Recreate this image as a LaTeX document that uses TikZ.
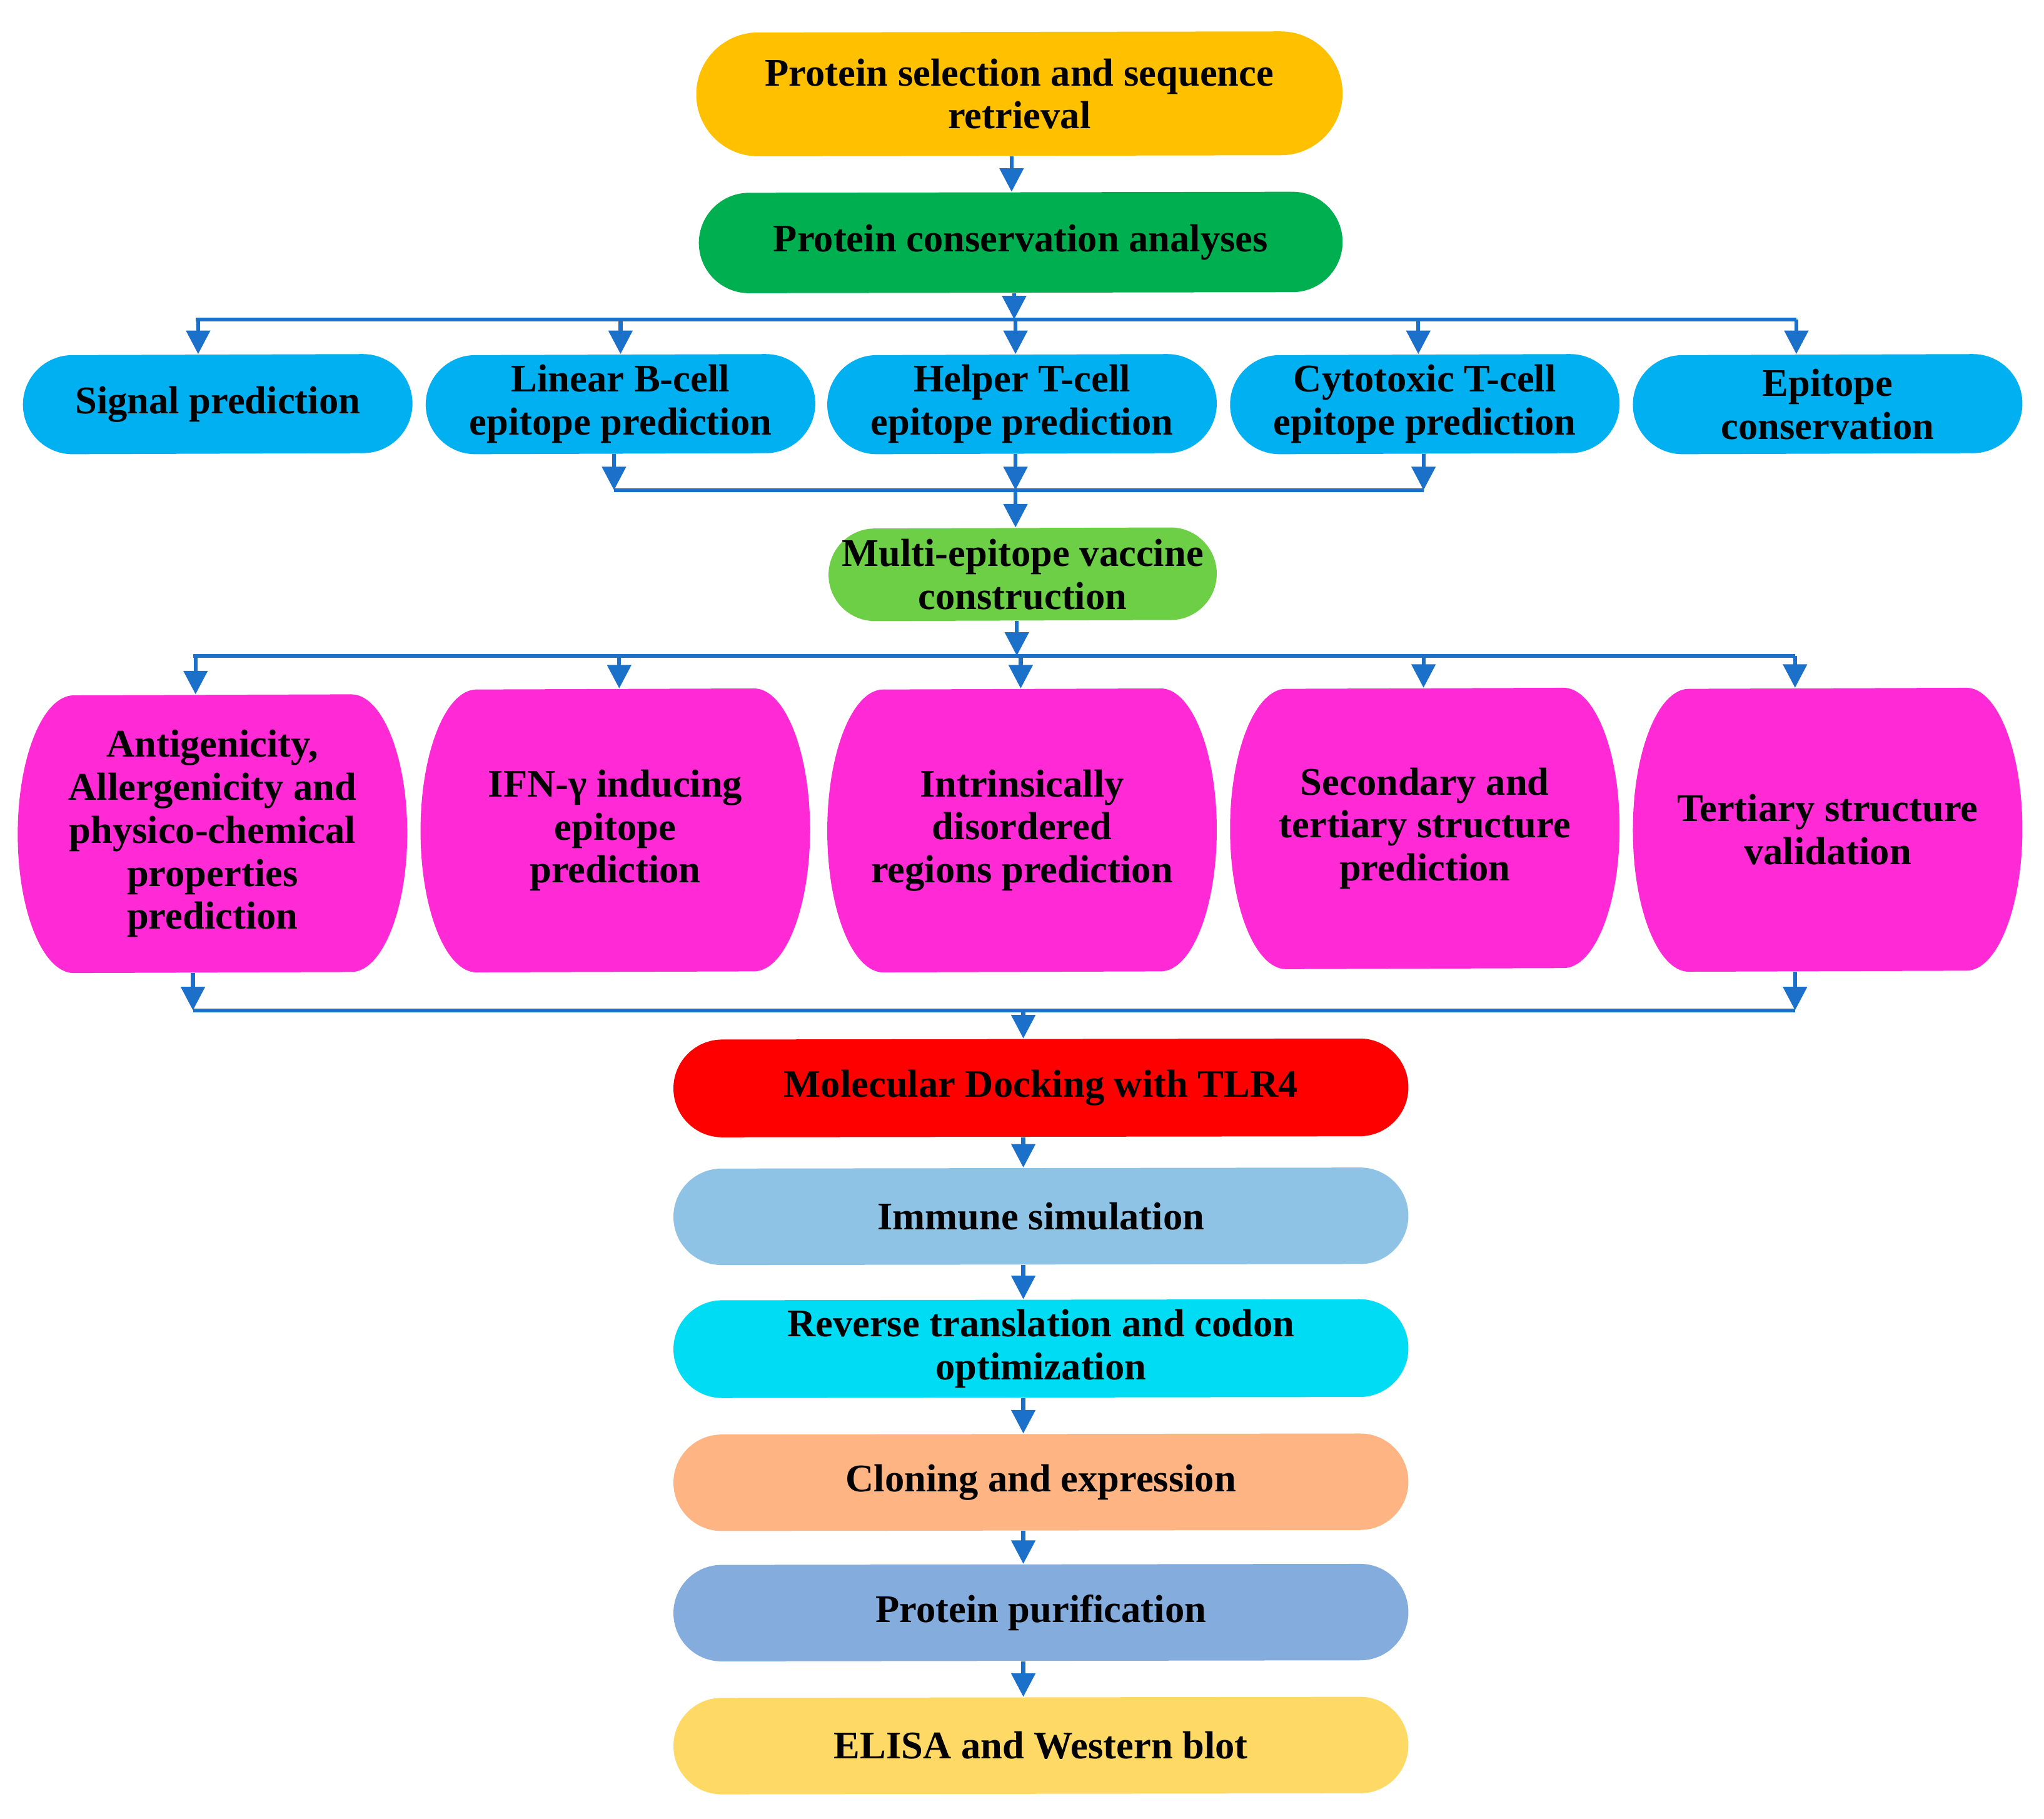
\documentclass[tikz,border=0pt]{standalone}
\usepackage{fontspec}
\setmainfont{Liberation Serif}
\usetikzlibrary{arrows.meta,backgrounds}
\definecolor{StepSel}   {HTML}{FFC000}
\definecolor{StepCons}  {HTML}{00B050}
\definecolor{StepScreen}{HTML}{00B0F0}
\definecolor{StepBuild} {HTML}{6DCF46}
\definecolor{StepCheck} {HTML}{FF2AD6}
\definecolor{StepDock}  {HTML}{FF0000}
\definecolor{StepImm}   {HTML}{8EC3E6}
\definecolor{StepRev}   {HTML}{00DCF4}
\definecolor{StepClon}  {HTML}{FFB583}
\definecolor{StepPuri}  {HTML}{84ACDD}
\definecolor{StepElisa} {HTML}{FFD966}
\definecolor{FlowBlue}  {HTML}{1B70C9}
\tikzset{
  stage/.style={rectangle,inner sep=0pt,align=center,text=black,
                font=\bfseries\fontsize{15pt}{16.5pt}\selectfont},
  wide/.style={stage,minimum width=281.5pt,minimum height=37.5pt},
  pill/.style={stage,minimum width=149pt,minimum height=38pt},
  barrel/.style={stage,minimum width=149pt,minimum height=108.5pt},
  flow/.style={draw=FlowBlue,line width=1.5pt,-{Triangle[length=9pt,width=9pt]}},
  busline/.style={draw=FlowBlue,line width=1.5pt}
}
\begin{document}
\begin{tikzpicture}[x=0.5pt,y=-0.5pt]
    \useasboundingbox (0,0) rectangle (1568,1395);
    % Sequence and conservation
    \node[wide,minimum width=247.5pt,minimum height=47.5pt] (sel) at (782,72)
      {Protein selection and sequence\\retrieval};
    \node[wide,minimum width=246.5pt,minimum height=38.5pt] (cons) at (783,186)
      {Protein conservation analyses};
    \draw[flow] (776,0 |- sel.south) -- (776,0 |- cons.north);
    % Epitope screening
    \node[pill] (sig)  at (167,310)  {Signal prediction};
    \node[pill] (linb) at (476,310)  {Linear B-cell\\epitope prediction};
    \node[pill] (helt) at (784,310)  {Helper T-cell\\epitope prediction};
    \node[pill] (cyto) at (1093,310) {Cytotoxic T-cell\\epitope prediction};
    \node[pill] (epic) at (1402,310) {Epitope\\conservation};
    \coordinate (sAl) at (150,245);
    \coordinate (sAr) at (1378,245);
    \draw[flow] (778,0 |- cons.south) -- (778,0 |- sAl);
    \draw[busline] (sAl) -- (sAr);
    \foreach \x/\n in {152/sig,476/linb,779/helt,1088/cyto,1378/epic}
      \draw[flow] (\x,0 |- sAl) -- (\x,0 |- \n.north);
    % Vaccine construction
    \node[stage,minimum width=148.5pt,minimum height=35.5pt] (mev) at (784.5,440.5)
      {Multi-epitope vaccine\\construction};
    \coordinate (sBl) at (471,376);
    \coordinate (sBr) at (1092,376);
    \foreach \x/\n in {471/linb,779/helt,1092/cyto}
      \draw[flow] (\x,0 |- \n.south) -- (\x,0 |- sBl);
    \draw[busline] (sBl) -- (sBr);
    \draw[flow] (779,0 |- sBl) -- (779,0 |- mev.north);
    % Vaccine evaluation
    \node[barrel,minimum height=106.5pt] (anti) at (163,639.5)
      {Antigenicity,\\Allergenicity and\\physico-chemical\\properties\\prediction};
    \node[barrel] (ifn) at (472,637)    {IFN-γ inducing\\epitope\\prediction};
    \node[barrel] (idr) at (784,637)    {Intrinsically\\disordered\\regions prediction};
    \node[barrel,minimum height=107.5pt] (sec) at (1093,635.5) {Secondary and\\tertiary structure\\prediction};
    \node[barrel] (ter) at (1402,636.5) {Tertiary structure\\validation};
    \coordinate (sCl) at (148,503);
    \coordinate (sCr) at (1377,503);
    \draw[flow] (780,0 |- mev.south) -- (780,0 |- sCl);
    \draw[busline] (sCl) -- (sCr);
    \foreach \x/\n in {150/anti,475/ifn,783/idr,1092/sec,1377/ter}
      \draw[flow] (\x,0 |- sCl) -- (\x,0 |- \n.north);
    \coordinate (sDl) at (148,775);
    \coordinate (sDr) at (1377,775);
    \draw[flow] (148,0 |- anti.south) -- (sDl);
    \draw[flow] (1377,0 |- ter.south) -- (sDr);
    \draw[busline] (sDl) -- (sDr);
    % Docking to experimental validation
    \node[wide] (dock) at (798.5,834.5) {Molecular Docking with TLR4};
    \node[wide,minimum height=37pt] (imm) at (798.5,933) {Immune simulation};
    \node[wide] (rev) at (798.5,1034.5) {Reverse translation and codon\\optimization};
    \node[wide,minimum height=37pt] (clon) at (798.5,1137) {Cloning and expression};
    \node[wide,minimum height=37pt] (puri) at (798.5,1237) {Protein purification};
    \node[wide,minimum height=37pt] (elisa) at (798.5,1339) {ELISA and Western blot};
    \coordinate (col) at (785,775);
    \draw[flow] (col) -- (col |- dock.north);
    \foreach \a/\b in {dock/imm,imm/rev,rev/clon,clon/puri,puri/elisa}
      \draw[flow] (col |- \a.south) -- (col |- \b.north);
    % Box fills: flat top and bottom, half-ellipse ends
    \begin{scope}[on background layer]
      \foreach \n/\c/\d/\h in {sel/StepSel/23.75pt/23.75pt, cons/StepCons/19.25pt/19.25pt,
          sig/StepScreen/19pt/19pt, linb/StepScreen/19pt/19pt, helt/StepScreen/19pt/19pt,
          cyto/StepScreen/19pt/19pt, epic/StepScreen/19pt/19pt, mev/StepBuild/17.75pt/17.75pt,
          anti/StepCheck/21.5pt/53.25pt, ifn/StepCheck/21.5pt/54.25pt, idr/StepCheck/21.5pt/54.25pt,
          sec/StepCheck/21.5pt/53.75pt, ter/StepCheck/21.5pt/54.25pt,
          dock/StepDock/18.75pt/18.75pt, imm/StepImm/18.5pt/18.5pt, rev/StepRev/18.75pt/18.75pt,
          clon/StepClon/18.5pt/18.5pt, puri/StepPuri/18.5pt/18.5pt, elisa/StepElisa/18.5pt/18.5pt}
        \fill[\c] ([xshift=-\d]\n.north east) arc[start angle=90,end angle=-90,x radius=\d,y radius=\h]
          -- ([xshift=\d]\n.south west) arc[start angle=-90,end angle=-270,x radius=\d,y radius=\h] -- cycle;
    \end{scope}
\end{tikzpicture}
\end{document}
